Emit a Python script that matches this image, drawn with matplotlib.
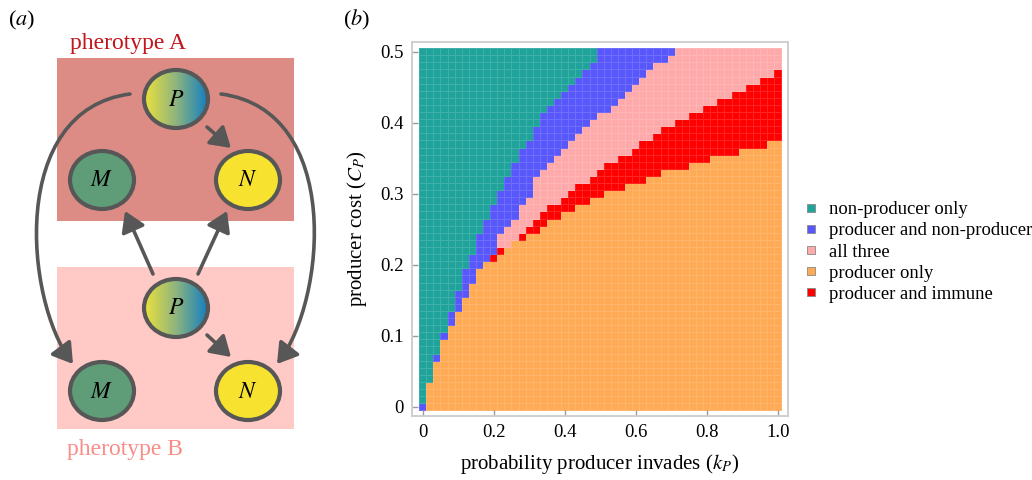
import numpy as np
import matplotlib
matplotlib.use('Agg')
import matplotlib.pyplot as plt
from matplotlib.colors import ListedColormap, LinearSegmentedColormap
from matplotlib.patches import Rectangle, Ellipse, FancyArrowPatch
from matplotlib.path import Path
from matplotlib.lines import Line2D

plt.rcParams['font.family'] = ['Liberation Serif', 'DejaVu Serif']
plt.rcParams['mathtext.fontset'] = 'stix'

# --- data: phase diagram (kp columns 0..1 step 0.02, Cp rows 0..0.5 step 0.01) ---
kp = np.round(np.arange(51) * 0.02, 2)
cp = np.round(np.arange(51) * 0.01, 2)

# highest row (index into cp) of each region, per kp column
orange_top = [-1, 3, 6, 9, 11, 13, 15, 17, 19, 20, 20, 21, 22, 23, 23, 24, 24, 25, 26, 26,
              27, 27, 28, 28, 29, 29, 30, 30, 30, 31, 31, 31, 32, 32, 33, 33, 33, 33, 34, 34,
              34, 35, 35, 35, 35, 36, 36, 36, 36, 37, 37]
red_top = [-1, 3, 6, 9, 11, 13, 15, 17, 19, 20, 21, 22, 22, 23, 24, 25, 26, 27, 28, 28,
           29, 30, 31, 31, 32, 33, 34, 34, 35, 35, 36, 37, 37, 38, 39, 39, 40, 40, 41, 41,
           42, 42, 43, 43, 44, 44, 45, 45, 46, 46, 47]
pink_top = [-1, 3, 6, 9, 11, 13, 15, 17, 19, 20, 21, 24, 25, 26, 28, 29, 32, 33, 34, 35,
            36, 37, 38, 39, 40, 41, 41, 42, 43, 44, 45, 46, 47, 48, 48, 49, 50, 50, 50, 50,
            50, 50, 50, 50, 50, 50, 50, 50, 50, 50, 50]
blue_top = [0, 3, 7, 10, 13, 16, 19, 21, 24, 26, 28, 30, 32, 34, 36, 37, 39, 41, 42, 43,
            44, 45, 46, 47, 48, 50, 50, 50, 50, 50, 50, 50, 50, 50, 50, 50, 50, 50, 50, 50,
            50, 50, 50, 50, 50, 50, 50, 50, 50, 50, 50]

labels = ['non-producer only', 'producer and non-producer', 'all three',
          'producer only', 'producer and immune']
colors = ['#1fa39b', '#5757fb', '#ffaaaa', '#ffaa55', '#ff0000']

xticks = [0, 0.2, 0.4, 0.6, 0.8, 1.0]
xticklabels = ['0', '0.2', '0.4', '0.6', '0.8', '1.0']
yticks = [0, 0.1, 0.2, 0.3, 0.4, 0.5]
yticklabels = ['0', '0.1', '0.2', '0.3', '0.4', '0.5']

# category grid: 0 teal,1 blue,2 pink,3 orange,4 red
grid = np.zeros((len(cp), len(kp)), dtype=int)
for j in range(len(kp)):
    for i in range(len(cp)):
        if i <= orange_top[j]:
            grid[i, j] = 3
        elif i <= red_top[j]:
            grid[i, j] = 4
        elif i <= pink_top[j]:
            grid[i, j] = 2
        elif i <= blue_top[j]:
            grid[i, j] = 1
        else:
            grid[i, j] = 0

W, H = 1032, 480
fig = plt.figure(figsize=(W / 100, H / 100), dpi=100)

# ---------------- panel (a): schematic, drawn in pixel coords ----------------
axd = fig.add_axes([0, 0, 1, 1])
axd.set_xlim(0, W)
axd.set_ylim(H, 0)
axd.axis('off')

axd.add_patch(Rectangle((57, 58), 237, 163, color='#dc8c85', lw=0, zorder=1))
axd.add_patch(Rectangle((57, 267), 237, 162, color='#ffc9c5', lw=0, zorder=1))
axd.text(70, 44, 'pherotype A', color='#c0161c', fontsize=17, va='center', ha='left')
axd.text(67, 450, 'pherotype B', color='#f98c86', fontsize=17, va='center', ha='left')
axd.text(8, 20, '($a$)', fontsize=16, va='center', ha='left')
axd.text(343, 20, '($b$)', fontsize=16, va='center', ha='left')

edge = '#575757'
arrow_kw = dict(arrowstyle='-|>,head_length=0.8,head_width=0.5', mutation_scale=15,
                color=edge, lw=2.6, shrinkA=0, shrinkB=0, zorder=3)

straight = [((207, 127), (231, 148)), ((207, 335), (231, 357)),
            ((153, 274), (125, 211)), ((198, 274), (227, 211))]
for a, b in straight:
    axd.add_patch(FancyArrowPatch(a, b, **arrow_kw))

curves = [[(130, 94), (8, 110), (25, 300), (73, 364)],
          [(221, 94), (343, 110), (326, 300), (277, 364)]]
for c in curves:
    p = Path(c, [Path.MOVETO, Path.CURVE4, Path.CURVE4, Path.CURVE4])
    axd.add_patch(FancyArrowPatch(path=p, **arrow_kw))

rx, ry = 32, 29
grad = LinearSegmentedColormap.from_list('pg', ['#ebe23c', '#8fb47e', '#137fc0'])
nodes = [('P', 176, 99), ('M', 102, 180), ('N', 248, 180),
         ('P', 176, 308), ('M', 102, 391), ('N', 248, 391)]
fills = {'M': '#5f9d78', 'N': '#f6e22f'}
for name, cx, cy in nodes:
    if name == 'P':
        im = axd.imshow(np.linspace(0, 1, 100)[None, :], cmap=grad, aspect='auto',
                        extent=(cx - rx, cx + rx, cy + ry, cy - ry), zorder=4)
        clip = Ellipse((cx, cy), 2 * rx, 2 * ry, transform=axd.transData)
        im.set_clip_path(clip)
        axd.add_patch(Ellipse((cx, cy), 2 * rx, 2 * ry, fc='none', ec=edge, lw=3, zorder=5))
    else:
        axd.add_patch(Ellipse((cx, cy), 2 * rx, 2 * ry, fc=fills[name], ec=edge, lw=3, zorder=5))
    axd.text(cx, cy + 1, '$' + name + '$', fontsize=17, ha='center', va='center', zorder=6)
axd.set_xlim(0, W)
axd.set_ylim(H, 0)

# ---------------- panel (b): phase diagram ----------------
ax = fig.add_axes([412 / W, 64 / H, 376 / W, 374 / H])
xe = np.append(kp - 0.01, kp[-1] + 0.01)
ye = np.append(cp - 0.005, cp[-1] + 0.005)
ax.pcolormesh(xe, ye, grid, cmap=ListedColormap(colors), vmin=-0.5, vmax=4.5,
              edgecolors=(1, 1, 1, 0.14), linewidth=0.6)
ax.set_xlim(-0.03, 1.029)
ax.set_ylim(-0.013, 0.5137)
ax.set_xticks(xticks)
ax.set_xticklabels(xticklabels)
ax.set_yticks(yticks)
ax.set_yticklabels(yticklabels)
ax.tick_params(direction='in', length=4, width=1, color='#9a9a9a', labelsize=13.5, pad=6)
for s in ax.spines.values():
    s.set_color('#cccccc')
    s.set_linewidth(1.3)
ax.set_xlabel('probability producer invades ($k_P$)', fontsize=15, labelpad=8)
ax.set_ylabel('producer cost ($C_P$)', fontsize=15, labelpad=8)

handles = [Line2D([], [], marker='s', ls='none', markersize=5.5, markerfacecolor=c,
                  markeredgecolor='#888888', markeredgewidth=0.6) for c in colors]
fig.legend(handles, labels, loc='center left', bbox_to_anchor=(805 / W, 1 - 252 / H),
           frameon=False, fontsize=13.4, handlelength=0.6, handletextpad=0.7,
           labelspacing=0.22, borderpad=0, borderaxespad=0)

fig.savefig('out.png', dpi=100)
